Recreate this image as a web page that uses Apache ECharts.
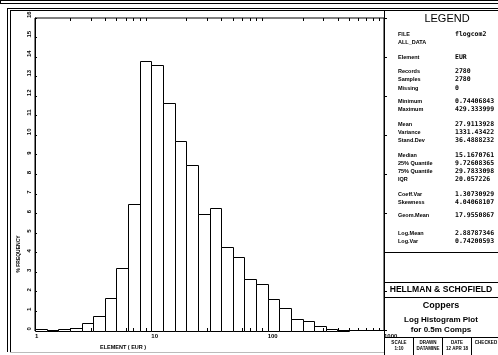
<!DOCTYPE html>
<html>
<head>
<meta charset="utf-8">
<script src="https://cdn.jsdelivr.net/npm/echarts@6/dist/echarts.min.js"></script>
<style>
  html, body { margin: 0; padding: 0; background: #fff; }
  #chart { width: 498px; height: 355px; }
</style>
</head>
<body>
<div id="chart"></div>
<script>
// Histogram bins: 10 bins per decade of EUR, frequency in percent
const binEdges = [1, 1.2589, 1.5849, 1.9953, 2.5119, 3.1623, 3.9811, 5.0119, 6.3096, 7.9433,
  10, 12.589, 15.849, 19.953, 25.119, 31.623, 39.811, 50.119, 63.096, 79.433,
  100, 125.89, 158.49, 199.53, 251.19, 316.23, 398.11, 501.19];
const freqPct = [0.06, 0.02, 0.09, 0.13, 0.40, 0.76, 1.68, 3.21, 6.46, 13.82,
  13.58, 11.67, 9.68, 8.47, 5.97, 6.28, 4.27, 3.75, 2.66, 2.38,
  1.60, 1.17, 0.61, 0.50, 0.22, 0.09, 0.04];

// Axis ticks
const xTickValues = [1, 10, 100, 1000];
const xTickLabels = ['1', '10', '100', '1000'];
const xMinorTicks = [2, 3, 4, 5, 6, 7, 8, 9, 20, 30, 40, 50, 60, 70, 80, 90,
  200, 300, 400, 500, 600, 700, 800, 900];
const yTickLabels = ['0', '1', '2', '3', '4', '5', '6', '7', '8', '9', '10', '11', '12', '13', '14', '15', '16'];

// Statistics panel
const statLabels = ['FILE', 'ALL_DATA', 'Element', 'Records', 'Samples', 'Missing', 'Minimum', 'Maximum',
  'Mean', 'Variance', 'Stand.Dev', 'Median', '25% Quantile', '75% Quantile', 'IQR',
  'Coeff.Var', 'Skewness', 'Geom.Mean', 'Log.Mean', 'Log.Var'];
const statValues = ['flogcom2', '', 'EUR', '2780', '2780', '0', '0.74406843', '429.333999',
  '27.9113928', '1331.43422', '36.4888232', '15.1670761', '9.72608365', '29.7833098', '20.057226',
  '1.30730929', '4.04068107', '17.9550867', '2.88787346', '0.74200593'];
const titleBlock = ['HELLMAN & SCHOFIELD', 'Coppers', 'Log Histogram Plot', 'for 0.5m Comps'];
const footerHeads = ['SCALE', 'DRAWN', 'DATE', 'CHECKED'];
const footerValues = ['1:10', 'DATAMINE', '12 APR 18', ''];
const xAxisTitle = 'ELEMENT ( EUR )';
const yAxisTitle = '% FREQUENCY';

const FONT = '"Liberation Sans", Arial, sans-serif';
const MONO = '"DejaVu Sans Mono", monospace';

const binData = freqPct.map((f, i) => [binEdges[i], binEdges[i + 1], f]);
const snap = v => Math.round(v) + 0.5;

// ---- frame and panel graphics ----
const g = [];
function line(x1, y1, x2, y2, color, w) {
  g.push({ type: 'line', silent: true, z: 50,
    shape: { x1, y1, x2, y2 }, style: { stroke: color || '#000', lineWidth: w || 1 } });
}
function text(str, x, y, font, align, extra) {
  g.push(Object.assign({ type: 'text', silent: true, z: 60, x, y,
    style: { text: str, font, fill: '#000', align: align || 'left', verticalAlign: 'middle' } }, extra || {}));
}
// outer title band
line(0, 0.5, 498, 0.5, '#000', 1);
line(0, 3.5, 498, 3.5, '#000', 1);
line(0.5, 0, 0.5, 4, '#000', 1);
// drawing frame (double lines)
line(7, 8.5, 498, 8.5);
line(10, 10.5, 498, 10.5);
line(7.5, 8, 7.5, 352);
line(10.5, 10, 10.5, 352);
line(10, 352.5, 384, 352.5, '#bbb', 1);
// statistics panel
line(384.5, 10, 384.5, 355);
line(384, 252.5, 498, 252.5);
line(384, 282.5, 498, 282.5);
line(384, 297.5, 498, 297.5);
line(384, 337.5, 498, 337.5);
[413.5, 442.5, 471.5].forEach(x => line(x, 337, x, 355));

text('LEGEND', 447, 19, 'normal 11px ' + FONT, 'center');
const statY = [34, 42, 57, 71, 79, 88, 101, 109, 124, 132, 140, 155, 163, 171, 179, 194, 202, 215, 233, 241];
statLabels.forEach((s, i) => {
  text(s, 398, statY[i], 'bold 5.5px ' + FONT, 'left');
  if (statValues[i]) text(statValues[i], 455, statY[i], 'bold 6.5px ' + MONO, 'left');
});
text(titleBlock[0], 441, 290, 'bold 8.6px ' + FONT, 'center');
text(titleBlock[1], 441, 306, 'bold 9px ' + FONT, 'center');
text(titleBlock[2], 441, 320, 'bold 8px ' + FONT, 'center');
text(titleBlock[3], 441, 330, 'bold 8px ' + FONT, 'center');
const footX = [399, 428, 457, 486];
footerHeads.forEach((s, i) => {
  text(s, footX[i], 342.5, 'bold 4.5px ' + FONT, 'center');
  if (footerValues[i]) text(footerValues[i], footX[i], 349, 'bold 4.5px ' + FONT, 'center');
});
text(xAxisTitle, 100, 347, 'bold 5.5px ' + FONT, 'left');
text(yAxisTitle, 19, 254, 'bold 5px ' + FONT, 'center', { rotation: Math.PI / 2 });

const chart = echarts.init(document.getElementById('chart'), null, { renderer: 'canvas' });
chart.setOption({
  animation: false,
  backgroundColor: '#fff',
  grid: { left: 35, top: 18, right: 114, bottom: 24.5, show: true, borderColor: '#000', borderWidth: 1, backgroundColor: 'transparent' },
  xAxis: [{
    type: 'log', logBase: 10, min: 1, max: 1000, position: 'bottom',
    axisLine: { show: true, lineStyle: { color: '#000', width: 1 } },
    axisTick: { show: true, inside: true, length: 4, lineStyle: { color: '#000' } },
    splitLine: { show: false },
    axisLabel: {
      show: true, margin: 3, align: 'left', fontSize: 6, fontWeight: 'bold', fontFamily: FONT, color: '#000',
      formatter: v => { const k = xTickValues.findIndex(t => Math.abs(t - v) < 1e-6 * t); return k >= 0 ? xTickLabels[k] : ''; }
    }
  }],
  yAxis: [{
    type: 'value', min: 0, max: 16, interval: 1, position: 'left',
    axisLine: { show: true, lineStyle: { color: '#000', width: 1 } },
    axisTick: { show: true, inside: true, length: 2, lineStyle: { color: '#000' } },
    splitLine: { show: false },
    axisLabel: {
      show: true, rotate: 90, margin: 3, align: 'left', verticalAlign: 'bottom',
      fontSize: 6, fontWeight: 'bold', fontFamily: FONT, color: '#000',
      formatter: v => yTickLabels[Math.round(v)]
    }
  }, {
    type: 'value', min: 0, max: 16, interval: 2, position: 'right',
    axisLine: { show: true, lineStyle: { color: '#000', width: 1 } },
    axisTick: { show: true, inside: false, length: 3, lineStyle: { color: '#000' } },
    splitLine: { show: false }, axisLabel: { show: false }
  }],
  series: [{
    type: 'custom',
    name: 'frequency',
    xAxisIndex: 0, yAxisIndex: 0,
    data: binData,
    encode: { x: [0, 1], y: 2 },
    renderItem: (params, api) => {
      const top = api.coord([api.value(0), api.value(2)]);
      const base = api.coord([api.value(1), 0]);
      const x0 = snap(top[0]), x1 = snap(base[0]);
      const y0 = snap(top[1]), y1 = snap(base[1]);
      return { type: 'rect', shape: { x: x0, y: y0, width: x1 - x0, height: y1 - y0 },
        style: { fill: '#fff', stroke: '#000', lineWidth: 1 } };
    }
  }, {
    type: 'custom',
    name: 'minor ticks',
    xAxisIndex: 0, yAxisIndex: 0,
    data: xMinorTicks.map(v => [v, 0]),
    encode: { x: 0, y: 1 },
    z: 5,
    renderItem: (params, api) => {
      const b = api.coord([api.value(0), 0]);
      const t = api.coord([api.value(0), 16]);
      const x = snap(b[0]);
      const yb = Math.round(b[1]), yt = Math.round(t[1]);
      return { type: 'group', children: [
        { type: 'line', shape: { x1: x, y1: yb, x2: x, y2: yb - 3 }, style: { stroke: '#000', lineWidth: 1 } },
        { type: 'line', shape: { x1: x, y1: yt, x2: x, y2: yt + 3 }, style: { stroke: '#000', lineWidth: 1 } }
      ] };
    }
  }],
  graphic: g
});
</script>
</body>
</html>
